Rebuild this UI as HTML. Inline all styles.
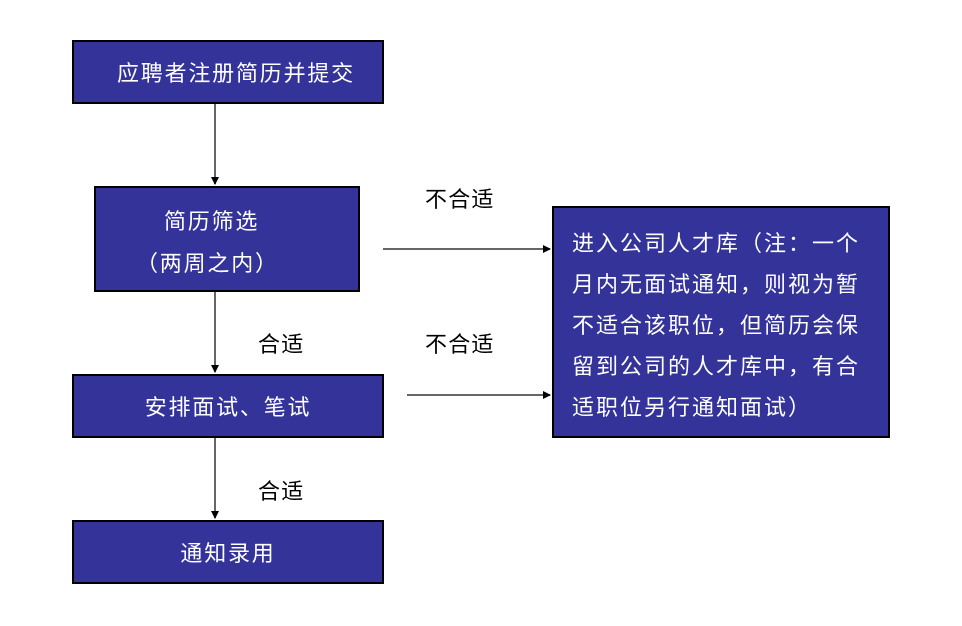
<!DOCTYPE html>
<html><head><meta charset="utf-8"><style>
body{margin:0;background:#fff;width:962px;height:626px;position:relative;overflow:hidden;font-family:"Liberation Sans","Noto Sans CJK SC",sans-serif;}
.b{position:absolute;background:#333399;border:2px solid #000;box-sizing:border-box;color:#fff;font-size:22px;letter-spacing:1.8px;}
.c{display:flex;align-items:center;justify-content:center;}
.l{position:absolute;font-size:22px;letter-spacing:1.2px;color:#000;}
</style></head><body>
<svg width="962" height="626" style="position:absolute;left:0;top:0">
<defs><marker id="a" markerWidth="8" markerHeight="8" refX="7" refY="4" orient="auto" markerUnits="userSpaceOnUse"><path d="M0,0 L8,4 L0,8z" fill="#000"/></marker></defs>
<g stroke="#666" stroke-width="2" fill="none">
<line x1="215" y1="103" x2="215" y2="184" marker-end="url(#a)"/>
<line x1="215" y1="291" x2="215" y2="372" marker-end="url(#a)"/>
<line x1="215" y1="437" x2="215" y2="518" marker-end="url(#a)"/>
<line x1="383" y1="249" x2="550" y2="249" marker-end="url(#a)"/>
<line x1="407" y1="395" x2="550" y2="395" marker-end="url(#a)"/>
</g></svg>
<div class="b c" style="left:72px;top:40px;width:312px;height:64px;padding-left:16px">应聘者注册简历并提交</div>
<div class="b" style="left:94px;top:186px;width:266px;height:106px;">
<div style="position:absolute;left:68px;top:16px">简历筛选</div>
<div style="position:absolute;left:40px;top:58px">（两周之内）</div></div>
<div class="b c" style="left:72px;top:374px;width:312px;height:64px;">安排面试、笔试</div>
<div class="b c" style="left:72px;top:520px;width:312px;height:64px;">通知录用</div>
<div class="b" style="left:552px;top:206px;width:338px;height:232px;padding:15px 0 0 18px;line-height:41px;letter-spacing:2px;">进入公司人才库（注：一个<br>月内无面试通知，则视为暂<br>不适合该职位，但简历会保<br>留到公司的人才库中，有合<br>适职位另行通知面试）</div>
<div class="l" style="left:425px;top:182px">不合适</div>
<div class="l" style="left:425px;top:327px">不合适</div>
<div class="l" style="left:258px;top:327px">合适</div>
<div class="l" style="left:258px;top:474px">合适</div>
</body></html>
